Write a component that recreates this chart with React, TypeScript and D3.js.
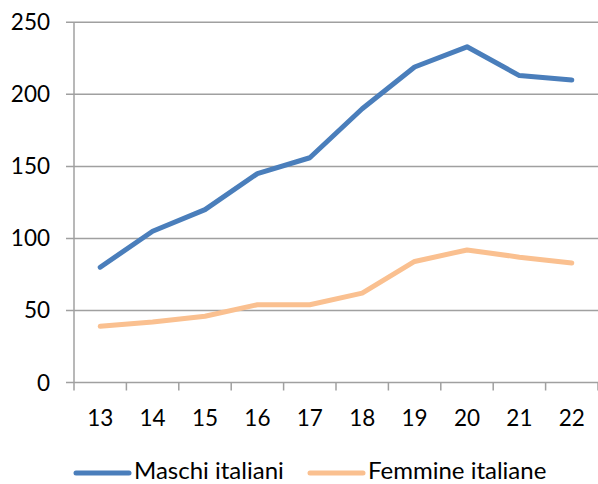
import React, { useEffect, useRef } from "react";
import * as d3 from "d3";

const categories = ["13", "14", "15", "16", "17", "18", "19", "20", "21", "22"];
const maschi = [80, 105, 120, 145, 156, 190, 219, 233, 213, 210];
const femmine = [39, 42, 46, 54, 54, 62, 84, 92, 87, 83];
const yTicks = [0, 50, 100, 150, 200, 250];
const seriesNames = ["Maschi italiani", "Femmine italiane"];
const colors = ["#4a7ebb", "#fac090"];

const App = () => {
  const svgRef = useRef<SVGSVGElement>(null);

  useEffect(() => {
    const width = 598;
    const height = 484;
    const left = 74;
    const right = 598;
    const top = 22.3;
    const bottom = 382.5;
    const font = "Lato, 'Open Sans', sans-serif";

    const svg = d3.select(svgRef.current);
    svg.selectAll("*").remove();
    svg.attr("width", width).attr("height", height);

    const x = d3.scaleBand().domain(categories).range([left, right]);
    const y = d3.scaleLinear().domain([0, 250]).range([bottom, top]);

    // griglia orizzontale
    svg.append("g")
      .selectAll("line")
      .data(yTicks)
      .join("line")
      .attr("x1", left - 8)
      .attr("x2", right)
      .attr("y1", d => y(d))
      .attr("y2", d => y(d))
      .attr("stroke", "#a0a0a0")
      .attr("stroke-width", 1.5);

    // asse verticale
    svg.append("line")
      .attr("x1", left).attr("x2", left)
      .attr("y1", top).attr("y2", bottom)
      .attr("stroke", "#a0a0a0")
      .attr("stroke-width", 1.5);

    // tacche asse x
    const tickPos = categories.map(c => (x(c) as number)).concat([right]);
    svg.append("g")
      .selectAll("line")
      .data(tickPos)
      .join("line")
      .attr("x1", d => d)
      .attr("x2", d => d)
      .attr("y1", bottom)
      .attr("y2", bottom + 8)
      .attr("stroke", "#a0a0a0")
      .attr("stroke-width", 1.5);

    // etichette y
    svg.append("g")
      .selectAll("text")
      .data(yTicks)
      .join("text")
      .attr("x", 50)
      .attr("y", d => y(d) + 8)
      .attr("text-anchor", "end")
      .attr("font-family", font)
      .attr("font-size", 22.5)
      .attr("fill", "#000")
      .text(d => d);

    // etichette x
    svg.append("g")
      .selectAll("text")
      .data(categories)
      .join("text")
      .attr("x", d => (x(d) as number) + x.bandwidth() / 2)
      .attr("y", 426)
      .attr("text-anchor", "middle")
      .attr("font-family", font)
      .attr("font-size", 22.5)
      .attr("fill", "#000")
      .text(d => d);

    const line = d3.line<number>()
      .x((_, i) => (x(categories[i]) as number) + x.bandwidth() / 2)
      .y(d => y(d));

    [maschi, femmine].forEach((serie, i) => {
      svg.append("path")
        .datum(serie)
        .attr("d", line)
        .attr("fill", "none")
        .attr("stroke", colors[i])
        .attr("stroke-width", 5)
        .attr("stroke-linejoin", "round")
        .attr("stroke-linecap", "round");
    });

    // legenda
    const legendX = [76, 310];
    const textX = [134, 368];
    seriesNames.forEach((name, i) => {
      svg.append("line")
        .attr("x1", legendX[i])
        .attr("x2", legendX[i] + 53)
        .attr("y1", 473)
        .attr("y2", 473)
        .attr("stroke", colors[i])
        .attr("stroke-width", 5)
        .attr("stroke-linecap", "round");
      svg.append("text")
        .attr("x", textX[i])
        .attr("y", 478.5)
        .attr("font-family", font)
        .attr("font-size", 24)
        .attr("fill", "#000")
        .text(name);
    });
  }, []);

  return (
    <svg ref={svgRef} style={{ position: "absolute", left: 0, top: 0 }}></svg>
  );
};

export default App;
